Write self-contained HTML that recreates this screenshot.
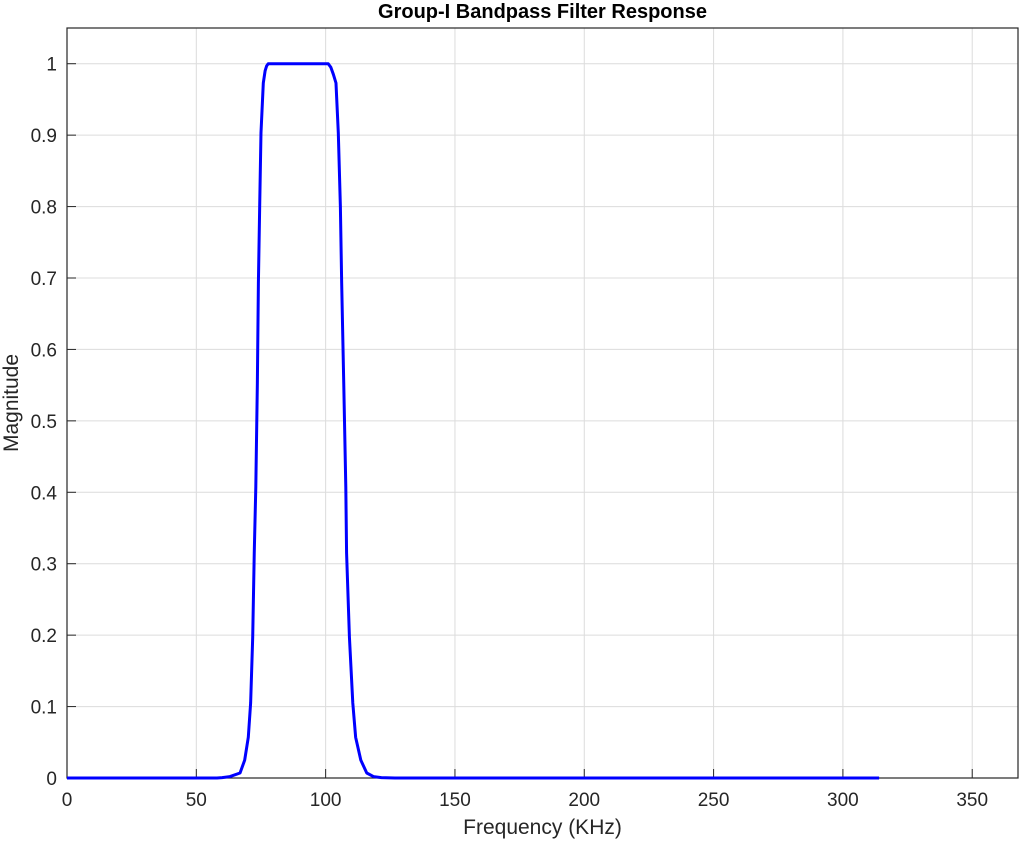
<!DOCTYPE html>
<html><head><meta charset="utf-8"><style>
body{margin:0;background:#fff;font-family:"Liberation Sans",sans-serif}
svg text{font-family:"Liberation Sans",sans-serif}
</style></head><body>
<svg id="chart" width="1021" height="840"></svg>
<script>
const freqs=[0,58,60,63,66.9,68.7,70.1,71.0,71.8,72.4,73.0,73.6,74.0,74.5,75.0,75.9,76.6,77.2,77.8,90,101.0,102.0,103.0,104.0,104.9,105.7,106.2,107.0,107.8,108.1,109.2,110.5,111.6,113.6,115.9,118.5,121.5,126.8,200,314];
const mags=[0,0,0.0005,0.002,0.007,0.025,0.057,0.105,0.197,0.315,0.407,0.553,0.693,0.8,0.903,0.973,0.99,0.997,1,1,1,0.995,0.985,0.973,0.903,0.8,0.693,0.553,0.407,0.315,0.197,0.105,0.057,0.025,0.007,0.002,0.0005,0,0,0];
const xTicks=[0,50,100,150,200,250,300,350];
const yTicks=[0,0.1,0.2,0.3,0.4,0.5,0.6,0.7,0.8,0.9,1];
const yTickLabels=["0","0.1","0.2","0.3","0.4","0.5","0.6","0.7","0.8","0.9","1"];
const L=67,R=1018,T=28,B=778,XMAX=367.7,YMAX=1.05;
const xs=v=>L+v/XMAX*(R-L), ys=v=>B-v/YMAX*(B-T);
const NS="http://www.w3.org/2000/svg", svg=document.getElementById('chart');
function mk(tag,attrs,txt){const e=document.createElementNS(NS,tag);for(const k in attrs)e.setAttribute(k,attrs[k]);if(txt!==undefined)e.textContent=txt;svg.appendChild(e);return e;}
xTicks.forEach(t=>{
 const g=mk('line',{x1:xs(t),x2:xs(t),y1:T,y2:B,stroke:'#dcdcdc','stroke-width':1});
 
 
 const tk=mk('line',{x1:xs(t),x2:xs(t),y1:B,y2:B-9,stroke:'#262626','stroke-width':1});
 
 
 const lb=mk('text',{x:xs(t),y:B+28,'text-anchor':'middle','font-size':19,fill:'#262626'},String(t));
 
 
});
yTicks.forEach((t,i)=>{
 const g=mk('line',{x1:L,x2:R,y1:ys(t),y2:ys(t),stroke:'#dcdcdc','stroke-width':1});
 
 
 const tk=mk('line',{x1:L,x2:L+9,y1:ys(t),y2:ys(t),stroke:'#262626','stroke-width':1});
 
 
 const lb=mk('text',{x:L-10,y:ys(t)+7,'text-anchor':'end','font-size':19,fill:'#262626'},yTickLabels[i]);
 
 
});
const box=mk('rect',{x:L,y:T,width:R-L,height:B-T,fill:'none',stroke:'#262626','stroke-width':1.2});


const pts=freqs.map((f,i)=>xs(f).toFixed(2)+','+ys(mags[i]).toFixed(2)).join(' ');
const line=mk('polyline',{points:pts,fill:'none',stroke:'#0000ff','stroke-width':3,'stroke-linejoin':'round'});


const title=mk('text',{x:(L+R)/2,y:18,'text-anchor':'middle','font-size':20,'font-weight':'bold',fill:'#000'},'Group-I Bandpass Filter Response');


const xl=mk('text',{x:(L+R)/2,y:834,'text-anchor':'middle','font-size':21,fill:'#262626'},'Frequency (KHz)');


const yl=mk('text',{x:0,y:0,'text-anchor':'middle','font-size':21,fill:'#262626',transform:'translate(18,403) rotate(-90)'},'Magnitude');


</script>
</body></html>
